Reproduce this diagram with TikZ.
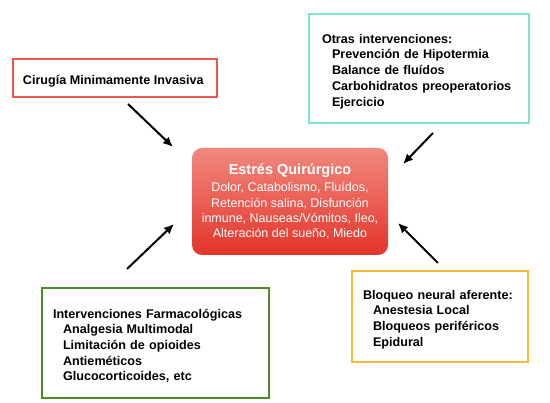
\documentclass[tikz,border=0pt]{standalone}
\usepackage{fontspec}
\setmainfont{Liberation Sans}
\usetikzlibrary{positioning,arrows.meta,calc}

\definecolor{bordeRojo}{RGB}{233,88,75}
\definecolor{bordeTurquesa}{RGB}{126,227,207}
\definecolor{bordeVerde}{RGB}{76,140,43}
\definecolor{bordeAmarillo}{RGB}{246,185,53}
\definecolor{estresArriba}{RGB}{240,136,126}
\definecolor{estresAbajo}{RGB}{228,52,42}

\begin{document}
\begin{tikzpicture}[
	x=1pt, y=-1pt,
	font=\fontsize{12.5}{16}\selectfont,
	caja/.style={
		draw,
		line width=1.8pt,
		fill=white,
		inner xsep=11pt,
		inner ysep=0pt,
		align=left,
		font=\fontsize{12.6}{15.7}\selectfont\bfseries,
		execute at begin node=\rule{0pt}{15pt},
	},
	centro/.style={
		rounded corners=10pt,
		top color=estresArriba,
		bottom color=estresAbajo,
		text=white,
		inner sep=0pt,
		align=center,
		minimum width=196pt,
		minimum height=107pt,
		font=\fontsize{12.5}{15.2}\selectfont,
		execute at begin node=\rule{0pt}{16pt},
	},
	flecha/.style={-{Latex[length=10pt, width=9pt]}, line width=2pt},
]

\useasboundingbox (0,0) rectangle (550,403);

\node[centro] (estres) at (290,201.5) {
	{\fontsize{14.5}{17}\selectfont\bfseries Estrés Quirúrgico}\\[2pt]
	Dolor, Catabolismo, Fluídos,\\
	Retención salina, Disfunción\\
	inmune, Nauseas/Vómitos, Ileo,\\
	Alteración del sueño, Miedo
};

\node[caja, draw=bordeRojo, inner xsep=8pt, minimum width=204pt, minimum height=38pt] (cirugia) at (115,78) {
	Cirugía Minimamente Invasiva
};

\node[caja, draw=bordeTurquesa, inner xsep=13pt, text width=194pt, minimum height=109pt] (otras) at (419,68.5) {
	Otras intervenciones:\\
	\hspace*{10pt}Prevención de Hipotermia\\
	\hspace*{10pt}Balance de fluídos\\
	\hspace*{10pt}Carbohidratos preoperatorios\\
	\hspace*{10pt}Ejercicio
};

\node[caja, draw=bordeVerde, text width=205pt, minimum height=110pt] (farma) at (155.5,343) {
	Intervenciones Farmacológicas\\
	\hspace*{10pt}Analgesia Multimodal\\
	\hspace*{10pt}Limitación de opioides\\
	\hspace*{10pt}Antieméticos\\
	\hspace*{10pt}Glucocorticoides, etc
};

\node[caja, draw=bordeAmarillo, text width=154pt, minimum height=91pt] (bloqueo) at (440,316.5) {
	Bloqueo neural aferente:\\
	\hspace*{10pt}Anestesia Local\\
	\hspace*{10pt}Bloqueos periféricos\\
	\hspace*{10pt}Epidural
};

% flechas sueltas hacia el estrés quirúrgico
\coordinate (cirugia-sal) at (128,104);
\coordinate (cirugia-lleg) at (173,147);
\coordinate (otras-sal) at (433,133);
\coordinate (otras-lleg) at (403,164);
\coordinate (farma-sal) at (127,269);
\coordinate (farma-lleg) at (174,224);
\coordinate (bloqueo-sal) at (438,263);
\coordinate (bloqueo-lleg) at (398,223);

\draw[flecha] (cirugia-sal) -- (cirugia-lleg);
\draw[flecha] (otras-sal) -- (otras-lleg);
\draw[flecha] (farma-sal) -- (farma-lleg);
\draw[flecha] (bloqueo-sal) -- (bloqueo-lleg);

\end{tikzpicture}
\end{document}
